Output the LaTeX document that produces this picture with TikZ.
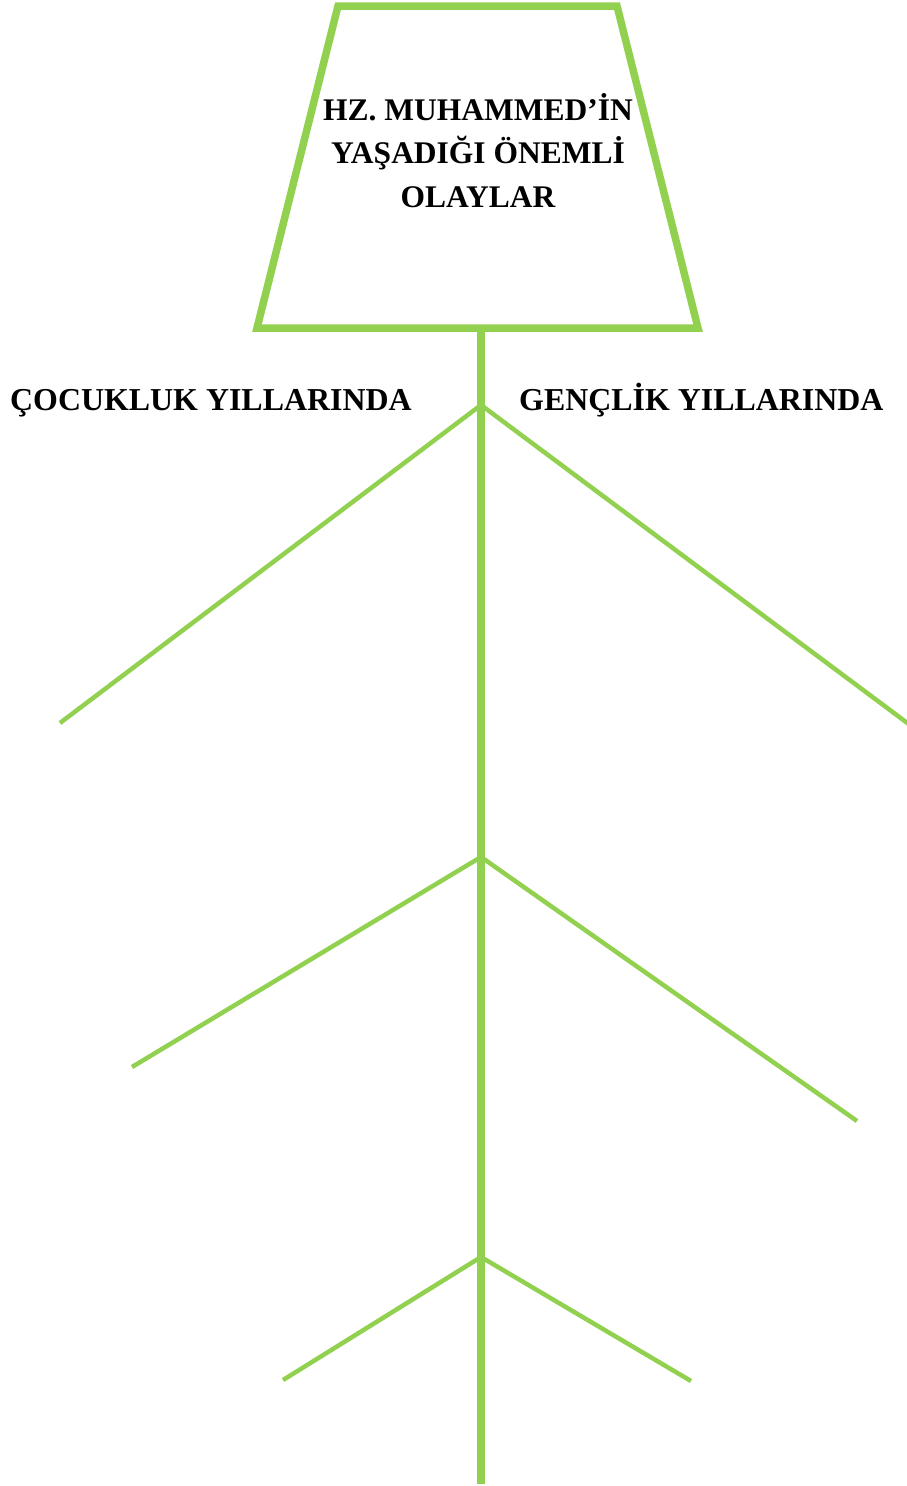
\documentclass[tikz,border=0pt]{standalone}
\usepackage{fontspec}
\setmainfont{Liberation Serif}
\definecolor{lgreen}{HTML}{92D050}
\begin{document}
\begin{tikzpicture}[x=1pt,y=-1pt,
  frame/.style={draw=lgreen,line width=7.5pt,line join=miter},
  stem/.style={draw=lgreen,line width=8pt},
  branch/.style={draw=lgreen,line width=4.5pt},
  ttl/.style={font=\fontsize{31.5}{43.5}\selectfont\bfseries,inner sep=0pt,anchor=base},
  lbl/.style={font=\fontsize{31.9}{40}\selectfont\bfseries,inner sep=0pt,anchor=base west}]
\useasboundingbox (0,0) rectangle (906,1486);
% trapezoid
\coordinate (tl) at (338,6);
\coordinate (tr) at (617,6);
\coordinate (br) at (698,328);
\coordinate (bl) at (257,328);
\draw[frame] (tl) -- (tr) -- (br) -- (bl) -- cycle;
\node[ttl] (title1) at (478,120) {HZ. MUHAMMED’İN};
\node[ttl] (title2) at (478,163.5) {YAŞADIĞI ÖNEMLİ};
\node[ttl] (title3) at (478,207) {OLAYLAR};
% stem
\coordinate (stop) at (481,331);
\coordinate (sbot) at (481,1484);
\draw[stem] (stop) -- (sbot);
% junctions
\coordinate (j1) at (481,405);
\coordinate (j2) at (481,857);
\coordinate (j3) at (481,1257);
\coordinate (l1) at (60,723);
\coordinate (r1) at (910,725);
\coordinate (l2) at (132,1067);
\coordinate (r2) at (857,1121);
\coordinate (l3) at (283,1380);
\coordinate (r3) at (691,1381);
\draw[branch] (l1) -- (j1) -- (r1);
\draw[branch] (l2) -- (j2) -- (r2);
\draw[branch] (l3) -- (j3) -- (r3);
% labels
\node[lbl] (left) at (10,410) {ÇOCUKLUK YILLARINDA};
\node[lbl] (right) at (519,410) {GENÇLİK YILLARINDA};
\end{tikzpicture}
\end{document}
